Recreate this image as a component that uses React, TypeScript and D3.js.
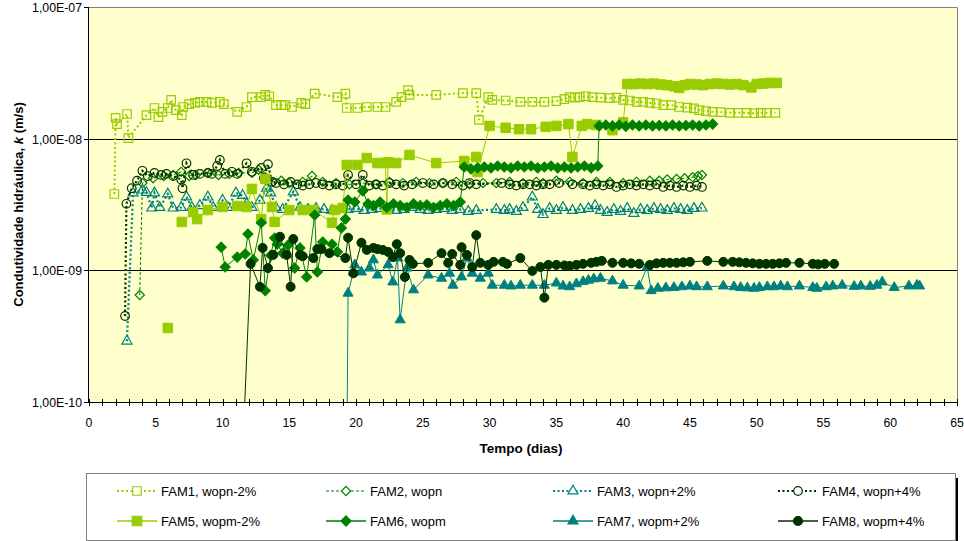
import React, { useEffect, useRef } from 'react';
import * as d3 from 'd3';

type Pt = [number, number | null];

// tempo (dias), k (m/s)
const fam1: Pt[] = [
  [1.9, 3.8e-9], [2.0, 1.44e-8], [2.1, 1.29e-8], [2.85, 1.54e-8], [2.95, 1.01e-8], [4.3, 1.51e-8],
  [4.9, 1.71e-8], [5.2, 1.46e-8], [5.5, 1.6e-8], [5.9, 1.71e-8], [6.15, 1.97e-8], [6.5, 1.65e-8],
  [6.95, 1.51e-8], [7.05, 1.74e-8], [7.5, 1.83e-8], [7.95, 1.87e-8], [8.3, 1.9e-8], [8.8, 1.9e-8],
  [9.2, 1.87e-8], [9.8, 1.9e-8], [10.1, 1.83e-8], [11.1, 1.6e-8], [11.8, 1.74e-8], [12.2, 2.07e-8],
  [12.9, 2.07e-8], [13.2, 2.15e-8], [13.5, 2.1e-8], [14.0, 1.8e-8], [14.4, 1.8e-8], [14.7, 1.8e-8],
  [15.2, 1.74e-8], [15.9, 1.87e-8], [16.2, 1.83e-8], [16.9, 2.2e-8], [18.6, 2.07e-8], [19.2, 2.2e-8],
  [19.3, 1.71e-8], [20.1, 1.71e-8], [20.8, 1.74e-8], [21.6, 1.74e-8], [22.2, 1.74e-8], [23.0, 1.9e-8],
  [23.4, 2.07e-8], [23.9, 2.34e-8], [24.0, 2.15e-8], [26.0, 2.15e-8], [28.0, 2.22e-8], [29.0, 2.22e-8],
  [29.2, 1.39e-8], [29.9, 2.07e-8], [30.2, 1.97e-8], [31.2, 1.95e-8], [32.3, 1.9e-8], [33.2, 1.9e-8],
  [34.1, 1.9e-8], [35.0, 1.93e-8], [35.6, 2.0e-8], [36.0, 2.07e-8], [36.4, 2.05e-8], [36.75, 2.07e-8],
  [37.2, 2.1e-8], [37.7, 2.07e-8], [38.3, 2.05e-8], [39.0, 2.03e-8], [39.5, 2.05e-8], [40.0, 1.97e-8],
  [40.5, 1.95e-8], [41.0, 1.9e-8], [41.5, 1.9e-8], [42.0, 1.87e-8], [42.5, 1.85e-8], [43.0, 1.8e-8],
  [43.6, 1.8e-8], [44.2, 1.74e-8], [44.8, 1.72e-8], [45.3, 1.7e-8], [45.7, 1.65e-8], [46.2, 1.62e-8],
  [46.7, 1.6e-8], [47.3, 1.59e-8], [48.0, 1.57e-8], [48.6, 1.57e-8], [49.25, 1.57e-8], [49.8, 1.56e-8],
  [50.3, 1.57e-8], [50.75, 1.57e-8], [51.4, 1.57e-8],
];

const fam2: Pt[] = [
  [3.8, 6.5e-10], [4.0, 4.6e-9], [4.8, 5.0e-9], [5.6, 5.2e-9], [6.3, 5.3e-9], [6.9, 5.6e-9],
  [7.5, 5.2e-9], [8.0, 5.3e-9], [8.9, 5.5e-9], [9.7, 5.3e-9], [10.5, 5.4e-9], [11.2, 5.5e-9],
  [12.2, 5.5e-9], [12.7, 5.8e-9], [13.2, 5.1e-9], [13.8, 4.7e-9], [14.4, 4.8e-9], [15.0, 4.6e-9],
  [16.0, 4.7e-9], [16.7, 5.2e-9], [17.5, 4.7e-9], [18.5, 4.6e-9], [19.5, 4.5e-9], [20.5, 4.6e-9],
  [21.5, 4.5e-9], [22.5, 4.7e-9], [23.5, 4.6e-9], [24.5, 4.7e-9], [25.5, 4.6e-9], [26.5, 4.6e-9],
  [27.5, 4.7e-9], [28.5, 4.5e-9], [29.5, 4.6e-9], [30.5, 4.6e-9], [31.5, 4.7e-9], [32.5, 4.6e-9],
  [33.5, 4.7e-9], [34.0, 4.6e-9], [35.0, 4.8e-9], [36.0, 4.7e-9], [37.0, 4.6e-9], [38.0, 4.7e-9],
  [39.0, 4.7e-9], [40.0, 4.6e-9], [41.0, 4.7e-9], [42.0, 4.8e-9], [42.7, 4.8e-9], [43.3, 4.9e-9],
  [44.0, 4.95e-9], [44.6, 5.0e-9], [45.2, 5.1e-9], [45.6, 5.2e-9], [45.9, 5.3e-9],
];

const fam3: Pt[] = [
  [2.84, 2.9e-10], [3.3, 3.87e-9], [4.0, 4.07e-9], [4.3, 3.9e-9], [4.7, 2.97e-9], [4.9, 3.87e-9],
  [5.3, 3.0e-9], [5.9, 3.8e-9], [6.3, 2.97e-9], [6.9, 3.0e-9], [7.3, 3.61e-9], [7.7, 3.0e-9],
  [8.3, 3.1e-9], [8.9, 3.6e-9], [9.3, 3.0e-9], [10.0, 3.4e-9], [10.4, 3.0e-9], [11.0, 3.87e-9],
  [11.5, 3.7e-9], [11.8, 3.2e-9], [12.2, 3.0e-9], [12.8, 3.4e-9], [13.3, 4.2e-9], [13.6, 3.87e-9],
  [14.0, 3.0e-9], [14.5, 2.9e-9], [15.3, 3.94e-9], [15.8, 3.0e-9], [16.4, 2.9e-9], [17.0, 2.95e-9],
  [17.6, 2.9e-9], [18.2, 2.85e-9], [18.8, 2.9e-9], [19.4, 2.9e-9], [20.0, 2.95e-9], [20.6, 2.85e-9],
  [21.2, 2.9e-9], [21.8, 2.95e-9], [22.4, 2.9e-9], [23.0, 2.85e-9], [23.6, 2.9e-9], [24.2, 3.0e-9],
  [24.8, 2.9e-9], [25.4, 2.85e-9], [26.0, 2.9e-9], [26.6, 2.95e-9], [27.2, 2.85e-9], [27.8, 2.9e-9],
  [28.4, 2.8e-9], [29.0, 2.85e-9], [30.5, 2.9e-9], [31.1, 2.85e-9], [31.5, 2.9e-9], [32.0, 2.8e-9],
  [32.5, 3.0e-9], [33.2, 3.6e-9], [33.6, 2.9e-9], [34.0, 2.65e-9], [34.5, 2.95e-9], [35.0, 2.85e-9],
  [35.5, 3.0e-9], [36.2, 2.85e-9], [36.8, 2.9e-9], [37.4, 2.95e-9], [37.9, 3.1e-9], [38.3, 2.85e-9],
  [38.8, 2.75e-9], [39.3, 2.9e-9], [39.8, 2.8e-9], [40.3, 2.95e-9], [40.8, 2.7e-9], [41.3, 2.9e-9],
  [41.8, 2.85e-9], [42.3, 2.95e-9], [42.8, 2.9e-9], [43.3, 2.85e-9], [43.8, 2.95e-9], [44.3, 2.9e-9],
  [44.8, 2.85e-9], [45.3, 2.95e-9], [45.9, 2.97e-9],
];

const fam4: Pt[] = [
  [2.7, 4.5e-10], [2.8, 3.2e-9], [3.2, 4.2e-9], [3.6, 4.8e-9], [4.0, 5.7e-9], [4.4, 5.2e-9],
  [4.9, 5.5e-9], [5.4, 5.3e-9], [5.8, 5.4e-9], [6.3, 5.2e-9], [6.9, 4.9e-9], [7.0, 4.2e-9],
  [7.3, 6.5e-9], [7.8, 5.3e-9], [8.3, 5.4e-9], [8.9, 5.5e-9], [9.2, 5.4e-9], [9.6, 6.2e-9],
  [9.8, 6.9e-9], [10.2, 5.4e-9], [10.7, 5.6e-9], [11.1, 5.4e-9], [11.8, 6.5e-9], [12.2, 5.6e-9],
  [12.9, 6.0e-9], [13.1, 5.0e-9], [13.4, 6.4e-9], [13.7, 4.7e-9], [14.0, 4.6e-9], [14.6, 4.5e-9],
  [15.1, 4.7e-9], [15.6, 4.5e-9], [16.0, 4.4e-9], [16.5, 4.5e-9], [17.0, 4.6e-9], [17.5, 4.5e-9],
  [18.0, 4.4e-9], [18.5, 4.5e-9], [19.0, 4.4e-9], [19.4, 5.3e-9], [20.0, 4.5e-9], [20.5, 5.3e-9],
  [21.0, 4.4e-9], [21.5, 4.5e-9], [22.0, 4.4e-9], [22.5, 4.6e-9], [23.0, 4.5e-9], [23.6, 4.4e-9],
  [24.2, 4.5e-9], [25.0, 4.6e-9], [25.8, 4.5e-9], [26.5, 4.6e-9], [27.2, 4.5e-9], [28.0, 4.4e-9],
  [28.5, 4.6e-9], [29.0, 4.5e-9], [30.9, 4.6e-9], [31.5, 4.5e-9], [32.0, 4.4e-9], [32.5, 4.5e-9],
  [33.0, 4.5e-9], [33.5, 4.4e-9], [34.0, 4.5e-9], [34.5, 4.5e-9], [35.2, 4.6e-9], [36.2, 4.5e-9],
  [37.0, 4.5e-9], [37.5, 4.4e-9], [38.0, 4.5e-9], [38.5, 4.4e-9], [39.0, 4.5e-9], [39.5, 4.3e-9],
  [40.0, 4.4e-9], [40.5, 4.5e-9], [41.0, 4.4e-9], [41.5, 4.5e-9], [42.0, 4.4e-9], [42.5, 4.5e-9],
  [43.0, 4.3e-9], [43.5, 4.4e-9], [44.0, 4.3e-9], [44.5, 4.4e-9], [45.0, 4.3e-9], [45.5, 4.4e-9],
  [45.9, 4.3e-9],
];

const fam5: Pt[] = [
  [5.9, 3.65e-10], [6.4, null], [6.95, 2.33e-9], [7.8, 2.77e-9], [8.1, 2.45e-9], [8.9, 2.87e-9],
  [10.0, 3.03e-9], [11.1, 3.08e-9], [11.8, 3.03e-9], [12.2, 4.15e-9], [12.9, 2.45e-9], [13.2, 4.95e-9],
  [13.7, 3.03e-9], [13.9, 2.33e-9], [15.0, 2.87e-9], [16.0, 2.87e-9], [16.8, 2.87e-9], [18.2, 2.3e-9],
  [18.4, 2.87e-9], [19.0, 2.97e-9], [19.3, 6.31e-9], [20.1, 6.31e-9], [20.8, 7.13e-9], [21.6, 6.53e-9],
  [22.2, 6.53e-9], [22.3, 2.9e-9], [22.4, 6.6e-9], [23.0, 6.53e-9], [24.0, 7.52e-9], [26.0, 6.53e-9],
  [28.1, 6.77e-9], [29.0, 7.26e-9], [29.1, 5.58e-9], [30.0, 1.25e-8], [31.2, 1.21e-8], [32.2, 1.18e-8],
  [33.1, 1.18e-8], [34.2, 1.23e-8], [35.0, 1.25e-8], [35.9, 1.29e-8], [36.2, 7.26e-9], [36.9, 1.25e-8],
  [37.3, 1.29e-8], [38.0, 1.27e-8], [39.2, 1.16e-8], [40.0, 1.33e-8], [40.3, 2.6e-8], [40.8, 2.6e-8],
  [41.3, 2.62e-8], [41.8, 2.6e-8], [42.3, 2.62e-8], [42.8, 2.58e-8], [43.3, 2.55e-8], [43.8, 2.5e-8],
  [44.2, 2.43e-8], [44.6, 2.55e-8], [45.0, 2.6e-8], [45.5, 2.58e-8], [46.0, 2.55e-8], [46.5, 2.6e-8],
  [47.0, 2.62e-8], [47.5, 2.6e-8], [48.0, 2.58e-8], [48.5, 2.6e-8], [49.0, 2.55e-8], [49.6, 2.45e-8],
  [50.0, 2.6e-8], [50.5, 2.62e-8], [51.0, 2.65e-8], [51.5, 2.65e-8],
];

const fam6: Pt[] = [
  [9.9, 1.5e-9], [10.2, 1.06e-9], [11.1, 1.26e-9], [11.7, 1.33e-9], [11.9, 1.89e-9], [12.3, 1.2e-9],
  [12.9, 2.3e-9], [13.2, 7.0e-10], [13.6, 1.3e-9], [13.9, 1.76e-9], [14.1, 1.58e-9], [14.5, 1.35e-9],
  [14.9, 1.55e-9], [15.4, 1.04e-9], [15.8, 1.48e-9], [16.3, 8.9e-10], [16.9, 2.63e-9], [17.1, 9.7e-10],
  [17.5, 1.64e-9], [18.2, 1.58e-9], [18.6, 1.38e-9], [18.9, 2.1e-9], [19.2, 2.45e-9], [19.4, 3.42e-9],
  [19.9, 3.3e-9], [20.5, 4.0e-9], [20.9, 3.2e-9], [21.3, 3.1e-9], [21.8, 3.3e-9], [22.3, 3.0e-9],
  [22.8, 3.2e-9], [23.3, 3.1e-9], [23.8, 3.0e-9], [24.3, 3.2e-9], [24.8, 3.1e-9], [25.3, 3.15e-9],
  [25.8, 3.0e-9], [26.3, 3.1e-9], [26.8, 3.2e-9], [27.3, 3.1e-9], [27.8, 3.3e-9], [28.1, 6.1e-9],
  [28.6, 5.9e-9], [29.1, 6.0e-9], [29.6, 6.1e-9], [30.1, 6.0e-9], [30.6, 6.2e-9], [31.1, 6.1e-9],
  [31.6, 6.0e-9], [32.1, 6.2e-9], [32.6, 6.1e-9], [33.1, 6.2e-9], [33.6, 6.0e-9], [34.1, 6.1e-9],
  [34.6, 6.2e-9], [35.1, 6.0e-9], [35.6, 6.1e-9], [36.1, 6.0e-9], [36.6, 6.1e-9], [37.1, 6.2e-9],
  [37.6, 6.0e-9], [38.1, 6.2e-9], [38.2, 1.25e-8], [38.7, 1.27e-8], [39.2, 1.25e-8], [39.7, 1.27e-8],
  [40.2, 1.24e-8], [40.7, 1.27e-8], [41.2, 1.25e-8], [41.7, 1.27e-8], [42.2, 1.25e-8], [42.7, 1.26e-8],
  [43.2, 1.25e-8], [43.7, 1.27e-8], [44.2, 1.25e-8], [44.7, 1.26e-8], [45.2, 1.27e-8], [45.7, 1.25e-8],
  [46.2, 1.27e-8], [46.7, 1.29e-8],
];

const fam7: Pt[] = [
  [19.3, 3e-11], [19.4, 6.7e-10], [19.8, 9.7e-10], [19.9, 1.1e-9], [20.4, 9.7e-10], [21.0, 1.04e-9],
  [21.3, 1.2e-9], [21.6, 9.2e-10], [22.4, 1.1e-9], [22.75, 8.15e-10], [23.1, 1.24e-9], [23.3, 4.2e-10],
  [23.8, 1.04e-9], [24.3, 7.1e-10], [25.4, 9.2e-10], [26.4, 8.7e-10], [27.0, 9.5e-10], [27.25, 7.7e-10],
  [27.9, 8.9e-10], [28.3, 1.24e-9], [28.7, 9.5e-10], [29.3, 8.7e-10], [29.9, 9.5e-10], [30.2, 7.7e-10],
  [31.1, 7.7e-10], [31.6, 7.6e-10], [32.3, 7.7e-10], [33.2, 7.7e-10], [34.1, 7.7e-10], [35.0, 8.0e-10],
  [35.5, 7.6e-10], [36.0, 7.5e-10], [36.5, 7.9e-10], [37.0, 8.2e-10], [37.4, 8.4e-10], [37.8, 8.6e-10],
  [38.3, 8.7e-10], [39.2, 8.3e-10], [40.0, 7.7e-10], [41.2, 7.6e-10], [41.8, 1.06e-9], [42.1, 7.0e-10],
  [42.6, 7.3e-10], [43.2, 7.35e-10], [43.8, 7.4e-10], [44.4, 7.5e-10], [45.0, 7.6e-10], [45.5, 7.5e-10],
  [46.3, 7.5e-10], [47.5, 7.6e-10], [48.3, 7.5e-10], [48.8, 7.4e-10], [49.3, 7.35e-10], [49.8, 7.3e-10],
  [50.2, 7.4e-10], [50.8, 7.5e-10], [51.3, 7.5e-10], [51.8, 7.6e-10], [52.3, 7.5e-10], [53.2, 7.6e-10],
  [54.2, 7.4e-10], [54.5, 7.3e-10], [55.2, 7.5e-10], [55.7, 7.6e-10], [56.4, 7.7e-10], [57.3, 7.55e-10],
  [57.8, 7.6e-10], [58.5, 7.55e-10], [59.0, 7.7e-10], [59.4, 8.15e-10], [60.3, 7.4e-10], [61.4, 7.6e-10],
  [62.0, 7.7e-10], [62.2, 7.6e-10],
];

const fam8: Pt[] = [
  [11.45, 3e-11], [12.1, 1.12e-9], [12.8, 7.5e-10], [13.0, 1.48e-9], [13.4, 1.04e-9], [13.8, 1.31e-9],
  [14.3, 1.8e-9], [14.8, 1.31e-9], [15.1, 7.5e-10], [15.3, 1.73e-9], [15.8, 1.31e-9], [16.0, 1.28e-9],
  [16.8, 1.24e-9], [17.1, 1.45e-9], [17.4, 1.45e-9], [18.0, 1.35e-9], [19.2, 1.24e-9], [19.4, 1.77e-9],
  [19.8, 9.5e-10], [20.4, 1.62e-9], [20.8, 1.43e-9], [21.3, 1.48e-9], [21.6, 1.45e-9], [22.0, 1.43e-9],
  [22.4, 1.38e-9], [22.75, 1.26e-9], [23.05, 1.58e-9], [23.3, 1.35e-9], [23.65, 8.9e-10], [24.0, 1.2e-9],
  [24.25, 1.12e-9], [25.4, 1.14e-9], [26.4, 1.35e-9], [26.9, 1.14e-9], [27.2, 1.33e-9], [27.8, 1.1e-9],
  [27.9, 1.5e-9], [28.3, 1.31e-9], [28.7, 1.06e-9], [29.0, 1.85e-9], [29.3, 1.14e-9], [29.9, 1.1e-9],
  [30.3, 1.16e-9], [31.0, 1.16e-9], [31.3, 1.12e-9], [32.3, 1.24e-9], [33.2, 9.9e-10], [33.8, 1.06e-9],
  [34.1, 6.2e-10], [34.4, 1.1e-9], [35.0, 1.1e-9], [35.6, 1.09e-9], [36.0, 1.08e-9], [36.5, 1.1e-9],
  [37.0, 1.12e-9], [37.6, 1.14e-9], [38.0, 1.16e-9], [38.4, 1.18e-9], [39.2, 1.14e-9], [40.0, 1.14e-9],
  [40.6, 1.13e-9], [41.2, 1.12e-9], [42.0, 1.1e-9], [42.5, 1.13e-9], [43.0, 1.14e-9], [43.5, 1.14e-9],
  [44.0, 1.14e-9], [44.5, 1.15e-9], [45.0, 1.16e-9], [46.3, 1.18e-9], [47.5, 1.16e-9], [48.2, 1.16e-9],
  [48.7, 1.15e-9], [49.2, 1.14e-9], [49.7, 1.13e-9], [50.2, 1.12e-9], [50.7, 1.12e-9], [51.2, 1.12e-9],
  [51.7, 1.13e-9], [52.2, 1.14e-9], [53.2, 1.14e-9], [54.2, 1.12e-9], [54.6, 1.11e-9], [55.1, 1.12e-9],
  [55.8, 1.12e-9],
];

const seriesNames = [
  'FAM1, wopn-2%', 'FAM2, wopn', 'FAM3, wopn+2%', 'FAM4, wopn+4%',
  'FAM5, wopm-2%', 'FAM6, wopm', 'FAM7, wopm+2%', 'FAM8, wopm+4%',
];
const seriesData = [fam1, fam2, fam3, fam4, fam5, fam6, fam7, fam8];

const yTicks = [1e-10, 1e-9, 1e-8, 1e-7];
const yTickLabels = ['1,00E-10', '1,00E-09', '1,00E-08', '1,00E-07'];
const xTicks = [0, 5, 10, 15, 20, 25, 30, 35, 40, 45, 50, 55, 60, 65];

const FONT = "'Liberation Sans', Arial, sans-serif";

// drawing style per series (same order as seriesNames)
const styles = [
  { color: '#99CC00', shape: 'square', filled: false, dash: '2,2.5', lw: 2, size: 8.5 },
  { color: '#008000', shape: 'diamond', filled: false, dash: '3,2', lw: 1, size: 6.5 },
  { color: '#008080', shape: 'triangle', filled: false, dash: '2,2.5', lw: 2.2, size: 44 },
  { color: '#003300', shape: 'circle', filled: false, dash: '2,2.5', lw: 2.2, size: 4.3 },
  { color: '#99CC00', shape: 'square', filled: true, dash: null, lw: 1, size: 9.5 },
  { color: '#008000', shape: 'diamond', filled: true, dash: null, lw: 1, size: 7.2 },
  { color: '#008080', shape: 'triangle', filled: true, dash: null, lw: 1, size: 44 },
  { color: '#003300', shape: 'circle', filled: true, dash: null, lw: 1, size: 4.5 },
];

function markerPath(shape: string, size: number) {
  if (shape === 'square' || shape === 'diamond') return d3.symbol(d3.symbolSquare, size * size)();
  if (shape === 'triangle') return d3.symbol(d3.symbolTriangle, size)();
  return d3.symbol(d3.symbolCircle, Math.PI * size * size)();
}

const App = () => {
  const svgRef = useRef<SVGSVGElement>(null);

  useEffect(() => {
    const W = 964;
    const H = 541;
    const plot = { left: 89, top: 7, right: 957, bottom: 402 };

    const svg = d3.select(svgRef.current).attr('width', W).attr('height', H);
    svg.selectAll('*').remove();

    const x = d3.scaleLinear().domain([0, 65]).range([plot.left, plot.right]);
    const y = d3.scaleLog().domain([1e-10, 1e-7]).range([plot.bottom, plot.top]);

    svg.append('rect').attr('width', W).attr('height', H).attr('fill', '#fff');

    // plot area
    svg.append('rect')
      .attr('x', plot.left).attr('y', plot.top)
      .attr('width', plot.right - plot.left).attr('height', plot.bottom - plot.top)
      .attr('fill', '#FFFFCC');

    svg.append('defs').append('clipPath').attr('id', 'plotClip')
      .append('rect')
      .attr('x', plot.left).attr('y', plot.top)
      .attr('width', plot.right - plot.left).attr('height', plot.bottom - plot.top);

    // gridlines
    [1e-9, 1e-8].forEach(v => {
      svg.append('line')
        .attr('x1', plot.left).attr('x2', plot.right)
        .attr('y1', Math.round(y(v)) + 0.5).attr('y2', Math.round(y(v)) + 0.5)
        .attr('stroke', '#000').attr('stroke-width', 1);
    });

    // plot border top / right
    svg.append('path')
      .attr('d', `M${plot.left},${plot.top + 0.5}H${plot.right + 0.5}V${plot.bottom}`)
      .attr('fill', 'none').attr('stroke', '#808080').attr('stroke-width', 1);

    // series
    const g = svg.append('g').attr('clip-path', 'url(#plotClip)');
    seriesData.forEach((data, i) => {
      const st = styles[i];
      const line = d3.line<Pt>()
        .defined(d => d[1] !== null)
        .x(d => x(d[0]))
        .y(d => y(d[1] as number));

      g.append('path')
        .datum(data)
        .attr('fill', 'none')
        .attr('stroke', st.color)
        .attr('stroke-width', st.lw)
        .attr('stroke-dasharray', st.dash)
        .attr('d', line);

      const pts = data.filter(d => d[1] !== null);
      g.append('g').selectAll('path')
        .data(pts)
        .join('path')
        .attr('d', markerPath(st.shape, st.size))
        .attr('transform', d => `translate(${x(d[0])},${y(d[1] as number)})${st.shape === 'diamond' ? ' rotate(45)' : ''}`)
        .attr('fill', st.filled ? st.color : 'none')
        .attr('stroke', st.color)
        .attr('stroke-width', st.filled ? 1 : 1.2);
    });

    // y axis
    svg.append('line')
      .attr('x1', plot.left - 0.5).attr('x2', plot.left - 0.5)
      .attr('y1', plot.top).attr('y2', plot.bottom)
      .attr('stroke', '#000');
    yTicks.forEach((v, i) => {
      const yy = Math.round(y(v)) + 0.5;
      svg.append('line')
        .attr('x1', plot.left - 5).attr('x2', plot.left)
        .attr('y1', yy).attr('y2', yy)
        .attr('stroke', '#000');
      svg.append('text')
        .attr('x', plot.left - 7).attr('y', yy + 4.5)
        .attr('text-anchor', 'end')
        .attr('font-family', FONT).attr('font-size', 12.3)
        .attr('fill', '#000')
        .text(yTickLabels[i]);
    });

    // x axis
    svg.append('line')
      .attr('x1', plot.left).attr('x2', plot.right + 1)
      .attr('y1', plot.bottom + 0.5).attr('y2', plot.bottom + 0.5)
      .attr('stroke', '#000');
    d3.range(0, 66).forEach(d => {
      const xx = Math.round(x(d)) + 0.5;
      svg.append('line')
        .attr('x1', xx).attr('x2', xx)
        .attr('y1', plot.bottom - 3).attr('y2', plot.bottom + 4)
        .attr('stroke', '#000');
    });
    xTicks.forEach(d => {
      svg.append('text')
        .attr('x', x(d)).attr('y', plot.bottom + 25)
        .attr('text-anchor', 'middle')
        .attr('font-family', FONT).attr('font-size', 12.3)
        .attr('fill', '#000')
        .text(d);
    });

    // axis titles
    svg.append('text')
      .attr('x', 521).attr('y', 453)
      .attr('text-anchor', 'middle')
      .attr('font-family', FONT).attr('font-size', 13.5).attr('font-weight', 'bold')
      .text('Tempo (dias)');

    const yt = svg.append('text')
      .attr('transform', `translate(23,${(plot.top + plot.bottom) / 2}) rotate(-90)`)
      .attr('text-anchor', 'middle')
      .attr('font-family', FONT).attr('font-size', 13).attr('font-weight', 'bold');
    yt.append('tspan').text('Condutividade hidráulica, ');
    yt.append('tspan').attr('font-style', 'italic').text('k');
    yt.append('tspan').text(' (m/s)');

    // legend
    const lg = { x: 86, y: 473, w: 869, h: 67 };
    svg.append('rect')
      .attr('x', lg.x + 3).attr('y', lg.y + 5).attr('width', lg.w).attr('height', lg.h)
      .attr('fill', '#000');
    svg.append('rect')
      .attr('x', lg.x + 0.5).attr('y', lg.y + 0.5).attr('width', lg.w).attr('height', lg.h)
      .attr('fill', '#fff').attr('stroke', '#808080');

    const colText = [161, 370, 597, 822];
    const rowY = [491, 521];
    seriesNames.forEach((name, i) => {
      const st = styles[i];
      const tx = colText[i % 4];
      const ry = rowY[Math.floor(i / 4)];
      const x0 = tx - 44;
      const x1 = tx - 4;
      svg.append('line')
        .attr('x1', x0).attr('x2', x1)
        .attr('y1', ry).attr('y2', ry)
        .attr('stroke', st.color)
        .attr('stroke-width', st.dash ? st.lw : 2)
        .attr('stroke-opacity', st.dash ? 1 : 0.75)
        .attr('stroke-dasharray', st.dash);
      svg.append('path')
        .attr('d', markerPath(st.shape, st.size))
        .attr('transform', `translate(${(x0 + x1) / 2},${ry})${st.shape === 'diamond' ? ' rotate(45)' : ''}`)
        .attr('fill', st.filled ? st.color : '#fff')
        .attr('stroke', st.color)
        .attr('stroke-width', 1.2);
      svg.append('text')
        .attr('x', tx).attr('y', ry + 4.5)
        .attr('font-family', FONT).attr('font-size', 13)
        .attr('fill', '#000')
        .text(name);
    });
  }, []);

  return <svg ref={svgRef} style={{ position: 'absolute', left: 0, top: 0 }} />;
};

export default App;
